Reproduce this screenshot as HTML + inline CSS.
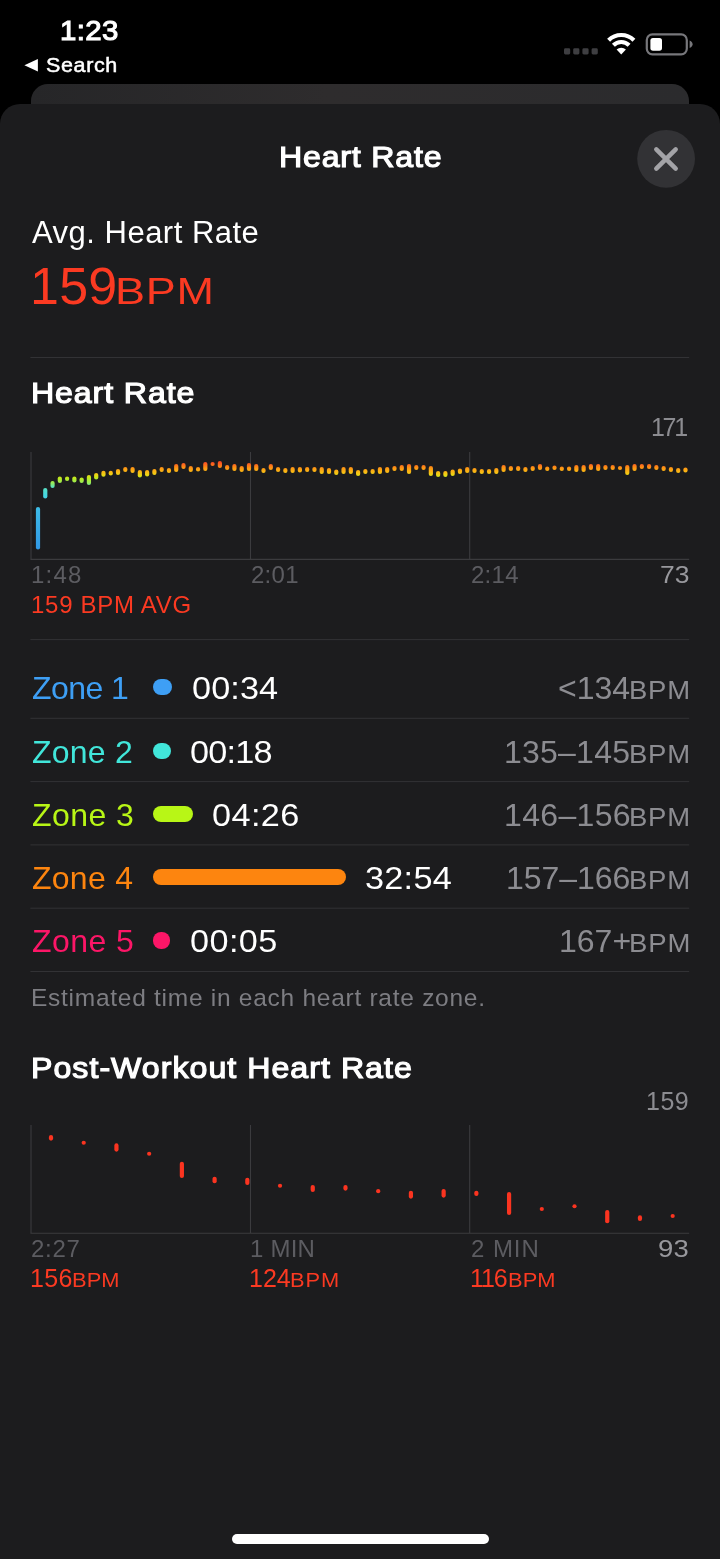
<!DOCTYPE html>
<html lang="en"><head><meta charset="utf-8">
<meta name="viewport" content="width=720">
<title>Heart Rate</title>
<style>
html,body{margin:0;padding:0;background:#000;}
body{width:720px;height:1559px;position:relative;overflow:hidden;font-family:"Liberation Sans",Arial,sans-serif;}
.abs{position:absolute;}
.t{position:absolute;white-space:nowrap;line-height:1;margin:0;padding:0;transform-origin:0 100%;will-change:transform;}
.back{position:absolute;left:31px;top:84px;width:658px;height:60px;border-radius:17px 17px 0 0;background:linear-gradient(90deg,#262628 0%,#2e2c2d 45%,#2b2b2d 100%);}
.sheet{position:absolute;left:0;top:104px;width:720px;height:1455px;border-radius:20px 20px 0 0;background:#1c1c1e;}
.sep{position:absolute;left:30px;width:659px;height:1px;background:#323235;}
.ax{position:absolute;background:#3b3b3e;}
.bar{position:absolute;}
</style></head><body>
<div class="back"></div>
<div class="sheet"></div>
<svg class="abs" style="left:20px;top:55px" width="22" height="22" viewBox="0 0 22 22"><path d="M4.4 10.3 L17.9 4.1 L17.9 16.6 Z" fill="#fff"/></svg>
<svg class="abs" style="left:560px;top:28px" width="140" height="32" viewBox="0 0 140 32">
<g fill="#3e3e41"><rect x="4" y="20.3" width="6.2" height="6.2" rx="1.4"/><rect x="13.2" y="20.3" width="6.2" height="6.2" rx="1.4"/><rect x="22.4" y="20.3" width="6.2" height="6.2" rx="1.4"/><rect x="31.6" y="20.3" width="6.2" height="6.2" rx="1.4"/></g>
<g fill="none" stroke="#fff" stroke-linecap="butt">
<path d="M48.6 12.2 A 18 18 0 0 1 73.9 12.2" stroke-width="4.2"/>
<path d="M53.4 17.2 A 11.2 11.2 0 0 1 69.1 17.2" stroke-width="4.2"/>
</g>
<path d="M61.25 26.6 L56.6 21.6 A 6.6 6.6 0 0 1 65.9 21.6 Z" fill="#fff"/>
<rect x="86.8" y="6.3" width="40" height="20" rx="5.6" fill="none" stroke="#77777b" stroke-width="2.2"/>
<rect x="90.4" y="9.9" width="11.6" height="12.8" rx="2.6" fill="#fff"/>
<path d="M129.6 12.6 C131.8 13.3 132.6 15 132.6 16.3 C132.6 17.6 131.8 19.3 129.6 20 Z" fill="#77777b"/>
</svg>
<svg class="abs" style="left:636px;top:128px" width="60" height="60" viewBox="0 0 60 60"><circle cx="30.1" cy="30.8" r="28.9" fill="#323235"/><path d="M20.3 21.3 L39.7 40.7 M39.7 21.3 L20.3 40.7" stroke="#a3a3a7" stroke-width="4.5" stroke-linecap="round"/></svg>
<svg class="abs" style="left:0;top:0" width="720" height="1559" viewBox="0 0 720 1559"><g stroke="#323235" stroke-width="1" fill="none"><path d="M30.4 357.5H689.2"/><path d="M30.4 639.6H689.2"/><path d="M30.4 718.3H689.2"/><path d="M30.4 781.6H689.2"/><path d="M30.4 844.9H689.2"/><path d="M30.4 908.2H689.2"/><path d="M30.4 971.5H689.2"/></g><g stroke="#3b3b3e" stroke-width="1.1" fill="none"><path d="M31 452V559.4M250.5 452V559.4M469.7 452V559.4M30.4 559.4H689.2"/><path d="M31 1125V1233.3M250.5 1125V1233.3M469.7 1125V1233.3M30.4 1233.3H689.2"/></g></svg>
<svg class="abs" style="left:0;top:440px" width="720" height="125" viewBox="0 440 720 125">
<defs><linearGradient id="hrg" gradientUnits="userSpaceOnUse" x1="0" y1="459" x2="0" y2="552"><stop offset="0.0000" stop-color="#fa3728"/><stop offset="0.0323" stop-color="#fb4b23"/><stop offset="0.0645" stop-color="#fc6e1c"/><stop offset="0.0968" stop-color="#fd9614"/><stop offset="0.1398" stop-color="#fab914"/><stop offset="0.1720" stop-color="#ebd714"/><stop offset="0.2043" stop-color="#beeb1e"/><stop offset="0.2581" stop-color="#96eb5a"/><stop offset="0.3011" stop-color="#5ae1be"/><stop offset="0.3871" stop-color="#46d7e1"/><stop offset="0.5484" stop-color="#3cb9e8"/><stop offset="1.0000" stop-color="#3096e6"/></linearGradient></defs>
<g fill="url(#hrg)"><rect x="35.90" y="507.00" width="4.2" height="42.50" rx="2.1"/><rect x="43.17" y="488.00" width="4.2" height="10.50" rx="2.1"/><rect x="50.45" y="481.00" width="4.2" height="7.00" rx="2.1"/><rect x="57.73" y="476.50" width="4.2" height="6.50" rx="2.1"/><rect x="65.00" y="476.50" width="4.2" height="4.50" rx="2.1"/><rect x="72.28" y="476.50" width="4.2" height="6.00" rx="2.1"/><rect x="79.55" y="477.50" width="4.2" height="5.50" rx="2.1"/><rect x="86.83" y="475.00" width="4.2" height="10.00" rx="2.1"/><rect x="94.10" y="473.00" width="4.2" height="6.50" rx="2.1"/><rect x="101.38" y="470.75" width="4.2" height="6.00" rx="2.1"/><rect x="108.65" y="470.75" width="4.2" height="4.75" rx="2.1"/><rect x="115.93" y="469.00" width="4.2" height="6.00" rx="2.1"/><rect x="123.20" y="467.00" width="4.2" height="5.00" rx="2.1"/><rect x="130.47" y="467.00" width="4.2" height="6.00" rx="2.1"/><rect x="137.75" y="470.00" width="4.2" height="7.50" rx="2.1"/><rect x="145.03" y="470.00" width="4.2" height="6.50" rx="2.1"/><rect x="152.30" y="469.00" width="4.2" height="6.00" rx="2.1"/><rect x="159.58" y="467.00" width="4.2" height="5.00" rx="2.1"/><rect x="166.85" y="468.00" width="4.2" height="5.00" rx="2.1"/><rect x="174.12" y="464.00" width="4.2" height="8.00" rx="2.1"/><rect x="181.40" y="463.00" width="4.2" height="6.00" rx="2.1"/><rect x="188.68" y="466.00" width="4.2" height="6.00" rx="2.1"/><rect x="195.95" y="467.00" width="4.2" height="4.50" rx="2.1"/><rect x="203.23" y="462.00" width="4.2" height="9.00" rx="2.1"/><rect x="210.50" y="462.00" width="4.2" height="4.00" rx="2.1"/><rect x="217.78" y="461.00" width="4.2" height="7.00" rx="2.1"/><rect x="225.05" y="465.00" width="4.2" height="5.00" rx="2.1"/><rect x="232.33" y="464.00" width="4.2" height="7.00" rx="2.1"/><rect x="239.60" y="466.00" width="4.2" height="6.00" rx="2.1"/><rect x="246.88" y="463.00" width="4.2" height="8.00" rx="2.1"/><rect x="254.15" y="464.00" width="4.2" height="7.00" rx="2.1"/><rect x="261.42" y="468.00" width="4.2" height="5.00" rx="2.1"/><rect x="268.70" y="464.00" width="4.2" height="6.00" rx="2.1"/><rect x="275.98" y="467.00" width="4.2" height="5.00" rx="2.1"/><rect x="283.25" y="468.00" width="4.2" height="5.00" rx="2.1"/><rect x="290.52" y="467.00" width="4.2" height="6.00" rx="2.1"/><rect x="297.80" y="467.00" width="4.2" height="5.50" rx="2.1"/><rect x="305.07" y="467.00" width="4.2" height="5.00" rx="2.1"/><rect x="312.35" y="467.00" width="4.2" height="5.00" rx="2.1"/><rect x="319.62" y="467.00" width="4.2" height="7.00" rx="2.1"/><rect x="326.90" y="468.00" width="4.2" height="6.00" rx="2.1"/><rect x="334.18" y="469.50" width="4.2" height="5.50" rx="2.1"/><rect x="341.45" y="467.00" width="4.2" height="7.00" rx="2.1"/><rect x="348.72" y="467.00" width="4.2" height="7.00" rx="2.1"/><rect x="356.00" y="470.00" width="4.2" height="6.00" rx="2.1"/><rect x="363.27" y="469.00" width="4.2" height="5.00" rx="2.1"/><rect x="370.55" y="469.00" width="4.2" height="5.00" rx="2.1"/><rect x="377.82" y="467.00" width="4.2" height="7.00" rx="2.1"/><rect x="385.10" y="467.00" width="4.2" height="6.00" rx="2.1"/><rect x="392.38" y="466.00" width="4.2" height="5.00" rx="2.1"/><rect x="399.65" y="465.00" width="4.2" height="6.00" rx="2.1"/><rect x="406.93" y="464.00" width="4.2" height="10.00" rx="2.1"/><rect x="414.20" y="465.00" width="4.2" height="5.00" rx="2.1"/><rect x="421.48" y="465.00" width="4.2" height="5.00" rx="2.1"/><rect x="428.75" y="466.00" width="4.2" height="10.00" rx="2.1"/><rect x="436.02" y="471.00" width="4.2" height="6.00" rx="2.1"/><rect x="443.30" y="471.00" width="4.2" height="6.00" rx="2.1"/><rect x="450.57" y="469.50" width="4.2" height="6.50" rx="2.1"/><rect x="457.85" y="468.50" width="4.2" height="5.50" rx="2.1"/><rect x="465.12" y="467.00" width="4.2" height="6.00" rx="2.1"/><rect x="472.40" y="468.00" width="4.2" height="5.00" rx="2.1"/><rect x="479.68" y="469.00" width="4.2" height="5.00" rx="2.1"/><rect x="486.95" y="469.00" width="4.2" height="5.00" rx="2.1"/><rect x="494.23" y="468.00" width="4.2" height="6.00" rx="2.1"/><rect x="501.50" y="465.00" width="4.2" height="7.00" rx="2.1"/><rect x="508.77" y="466.00" width="4.2" height="5.00" rx="2.1"/><rect x="516.05" y="466.00" width="4.2" height="5.00" rx="2.1"/><rect x="523.32" y="467.00" width="4.2" height="5.00" rx="2.1"/><rect x="530.60" y="466.00" width="4.2" height="5.00" rx="2.1"/><rect x="537.88" y="464.00" width="4.2" height="6.00" rx="2.1"/><rect x="545.15" y="466.50" width="4.2" height="4.50" rx="2.1"/><rect x="552.42" y="465.50" width="4.2" height="4.50" rx="2.1"/><rect x="559.70" y="466.50" width="4.2" height="4.50" rx="2.1"/><rect x="566.98" y="466.50" width="4.2" height="4.50" rx="2.1"/><rect x="574.25" y="465.00" width="4.2" height="7.00" rx="2.1"/><rect x="581.52" y="465.00" width="4.2" height="7.00" rx="2.1"/><rect x="588.80" y="464.00" width="4.2" height="6.00" rx="2.1"/><rect x="596.08" y="464.00" width="4.2" height="7.00" rx="2.1"/><rect x="603.35" y="465.00" width="4.2" height="5.00" rx="2.1"/><rect x="610.62" y="465.00" width="4.2" height="5.00" rx="2.1"/><rect x="617.90" y="466.00" width="4.2" height="4.00" rx="2.1"/><rect x="625.17" y="465.00" width="4.2" height="10.00" rx="2.1"/><rect x="632.45" y="464.00" width="4.2" height="7.00" rx="2.1"/><rect x="639.73" y="464.00" width="4.2" height="5.00" rx="2.1"/><rect x="647.00" y="464.00" width="4.2" height="5.00" rx="2.1"/><rect x="654.27" y="465.00" width="4.2" height="5.00" rx="2.1"/><rect x="661.55" y="466.00" width="4.2" height="5.00" rx="2.1"/><rect x="668.83" y="467.00" width="4.2" height="5.00" rx="2.1"/><rect x="676.10" y="468.00" width="4.2" height="5.00" rx="2.1"/><rect x="683.38" y="467.50" width="4.2" height="5.00" rx="2.1"/></g></svg>
<svg class="abs" style="left:0;top:1120px" width="720" height="115" viewBox="0 1120 720 115"><g fill="#fb3420"><rect x="48.90" y="1135.00" width="4.2" height="5.70" rx="2.1"/><rect x="81.62" y="1140.70" width="4.2" height="4.00" rx="2.1"/><rect x="114.34" y="1143.30" width="4.2" height="8.40" rx="2.1"/><rect x="147.06" y="1151.70" width="4.2" height="4.00" rx="2.1"/><rect x="179.78" y="1161.70" width="4.2" height="16.30" rx="2.1"/><rect x="212.50" y="1176.70" width="4.2" height="6.60" rx="2.1"/><rect x="245.22" y="1177.70" width="4.2" height="7.30" rx="2.1"/><rect x="277.94" y="1183.70" width="4.2" height="4.00" rx="2.1"/><rect x="310.66" y="1185.00" width="4.2" height="7.00" rx="2.1"/><rect x="343.38" y="1185.00" width="4.2" height="5.70" rx="2.1"/><rect x="376.10" y="1189.00" width="4.2" height="4.30" rx="2.1"/><rect x="408.82" y="1190.70" width="4.2" height="8.00" rx="2.1"/><rect x="441.54" y="1189.00" width="4.2" height="8.70" rx="2.1"/><rect x="474.26" y="1190.70" width="4.2" height="5.30" rx="2.1"/><rect x="506.98" y="1192.00" width="4.2" height="23.00" rx="2.1"/><rect x="539.70" y="1207.00" width="4.2" height="4.00" rx="2.1"/><rect x="572.42" y="1204.30" width="4.2" height="4.00" rx="2.1"/><rect x="605.14" y="1210.00" width="4.2" height="13.30" rx="2.1"/><rect x="637.86" y="1215.30" width="4.2" height="5.70" rx="2.1"/><rect x="670.58" y="1214.00" width="4.2" height="4.00" rx="2.1"/></g></svg>
<div class="bar" style="left:153.3px;top:679.20px;width:19.2px;height:16.2px;border-radius:8.1px;background:#3e9ff5"></div>
<div class="bar" style="left:153.3px;top:742.50px;width:17.8px;height:16.2px;border-radius:8.1px;background:#41e6da"></div>
<div class="bar" style="left:153.3px;top:805.80px;width:39.8px;height:16.2px;border-radius:8.1px;background:#b8f616"></div>
<div class="bar" style="left:153.3px;top:869.10px;width:192.5px;height:16.2px;border-radius:8.1px;background:#fd850f"></div>
<div class="bar" style="left:153.3px;top:932.40px;width:16.7px;height:16.2px;border-radius:8.1px;background:#fc1667"></div>
<div class="t" id="time" style="left:60.11px;top:16.80px;font-size:28px;font-weight:400;color:#fff;letter-spacing:0.34px;transform:scaleX(1.05);-webkit-text-stroke:1.1px #fff;">1:23</div>
<div class="t" id="search" style="left:46.00px;top:55.35px;font-size:20.5px;font-weight:400;color:#fff;letter-spacing:0.58px;transform:scaleX(1.05);-webkit-text-stroke:0.5px #fff;">Search</div>
<div class="t" id="title" style="left:278.88px;top:142.21px;font-size:30px;font-weight:400;color:#fff;letter-spacing:0.77px;transform:scaleX(1.07);-webkit-text-stroke:1.2px #fff;">Heart Rate</div>
<div class="t" id="avg" style="left:32.07px;top:216.76px;font-size:31px;font-weight:400;color:#fff;letter-spacing:0.49px;">Avg. Heart Rate</div>
<div class="t" id="big" style="left:29.62px;top:260.28px;font-size:52px;font-weight:400;color:#fb3a22;letter-spacing:0.22px;">159</div>
<div class="t" id="bigu" style="left:114.70px;top:272.56px;font-size:37.5px;font-weight:400;color:#fb3a22;letter-spacing:0.57px;transform:scaleX(1.2);">BPM</div>
<div class="t" id="h1" style="left:30.50px;top:378.31px;font-size:30px;font-weight:400;color:#fff;letter-spacing:0.85px;transform:scaleX(1.07);-webkit-text-stroke:1.2px #fff;">Heart Rate</div>
<div class="t" id="max1" style="left:651.00px;top:415.04px;font-size:25px;font-weight:400;color:#8c8c91;letter-spacing:-2.30px;">171</div>
<div class="t" id="x1a" style="left:30.50px;top:563.28px;font-size:24px;font-weight:400;color:#5c5c61;letter-spacing:1.24px;">1:48</div>
<div class="t" id="x1b" style="left:251.00px;top:563.28px;font-size:24px;font-weight:400;color:#5c5c61;letter-spacing:0.27px;">2:01</div>
<div class="t" id="x1c" style="left:470.62px;top:563.28px;font-size:24px;font-weight:400;color:#5c5c61;letter-spacing:0.27px;">2:14</div>
<div class="t" id="min1" style="left:659.62px;top:562.86px;font-size:24.5px;font-weight:400;color:#98989d;letter-spacing:-0.07px;transform:scaleX(1.08);">73</div>
<div class="t" id="avgl" style="left:30.50px;top:592.98px;font-size:24px;font-weight:400;color:#fb3a22;letter-spacing:0.72px;">159 BPM AVG</div>
<div class="t" id="z0" style="left:32.04px;top:672.21px;font-size:32px;font-weight:400;color:#3e9ff5;letter-spacing:-0.58px;">Zone 1</div>
<div class="t" id="zt0" style="left:191.70px;top:672.21px;font-size:32px;font-weight:400;color:#fff;letter-spacing:0.10px;transform:scaleX(1.07);">00:34</div>
<div class="t" id="zr0" style="left:557.50px;top:672.21px;font-size:32px;font-weight:400;color:#8c8c91;">&lt;134</div>
<div class="t" id="zu0" style="left:629.38px;top:678.14px;font-size:25px;font-weight:400;color:#8c8c91;letter-spacing:0.69px;transform:scaleX(1.1);">BPM</div>
<div class="t" id="z1" style="left:32.04px;top:735.51px;font-size:32px;font-weight:400;color:#41e6da;letter-spacing:0.22px;">Zone 2</div>
<div class="t" id="zt1" style="left:189.70px;top:735.51px;font-size:32px;font-weight:400;color:#fff;letter-spacing:-0.76px;transform:scaleX(1.07);">00:18</div>
<div class="t" id="zr1" style="left:504.00px;top:735.51px;font-size:32px;font-weight:400;color:#8c8c91;letter-spacing:0.23px;">135–145</div>
<div class="t" id="zu1" style="left:629.38px;top:741.94px;font-size:25px;font-weight:400;color:#8c8c91;letter-spacing:0.69px;transform:scaleX(1.1);">BPM</div>
<div class="t" id="z2" style="left:31.88px;top:798.81px;font-size:32px;font-weight:400;color:#b8f616;letter-spacing:0.42px;">Zone 3</div>
<div class="t" id="zt2" style="left:212.38px;top:798.81px;font-size:32px;font-weight:400;color:#fff;letter-spacing:0.37px;transform:scaleX(1.07);">04:26</div>
<div class="t" id="zr2" style="left:504.00px;top:798.81px;font-size:32px;font-weight:400;color:#8c8c91;letter-spacing:0.34px;">146–156</div>
<div class="t" id="zu2" style="left:629.38px;top:804.74px;font-size:25px;font-weight:400;color:#8c8c91;letter-spacing:0.69px;transform:scaleX(1.1);">BPM</div>
<div class="t" id="z3" style="left:31.88px;top:862.11px;font-size:32px;font-weight:400;color:#fd850f;letter-spacing:0.26px;">Zone 4</div>
<div class="t" id="zt3" style="left:365.00px;top:862.11px;font-size:32px;font-weight:400;color:#fff;letter-spacing:0.25px;transform:scaleX(1.07);">32:54</div>
<div class="t" id="zr3" style="left:506.00px;top:862.11px;font-size:32px;font-weight:400;color:#8c8c91;letter-spacing:-0.03px;">157–166</div>
<div class="t" id="zu3" style="left:629.38px;top:868.04px;font-size:25px;font-weight:400;color:#8c8c91;letter-spacing:0.69px;transform:scaleX(1.1);">BPM</div>
<div class="t" id="z4" style="left:31.88px;top:925.41px;font-size:32px;font-weight:400;color:#fc1667;letter-spacing:0.42px;">Zone 5</div>
<div class="t" id="zt4" style="left:189.64px;top:925.41px;font-size:32px;font-weight:400;color:#fff;letter-spacing:0.39px;transform:scaleX(1.07);">00:05</div>
<div class="t" id="zr4" style="left:559.07px;top:925.41px;font-size:32px;font-weight:400;color:#8c8c91;">167+</div>
<div class="t" id="zu4" style="left:629.28px;top:931.34px;font-size:25px;font-weight:400;color:#8c8c91;letter-spacing:0.79px;transform:scaleX(1.1);">BPM</div>
<div class="t" id="est" style="left:31.04px;top:985.86px;font-size:24.5px;font-weight:400;color:#7d7d82;letter-spacing:0.73px;">Estimated time in each heart rate zone.</div>
<div class="t" id="h2" style="left:30.88px;top:1053.11px;font-size:30px;font-weight:400;color:#fff;letter-spacing:0.97px;transform:scaleX(1.07);-webkit-text-stroke:1.2px #fff;">Post-Workout Heart Rate</div>
<div class="t" id="max2" style="left:645.50px;top:1088.84px;font-size:25px;font-weight:400;color:#8c8c91;letter-spacing:0.50px;">159</div>
<div class="t" id="x2a" style="left:31.24px;top:1237.08px;font-size:24px;font-weight:400;color:#5c5c61;letter-spacing:0.71px;">2:27</div>
<div class="t" id="x2b" style="left:250.00px;top:1237.08px;font-size:24px;font-weight:400;color:#5c5c61;letter-spacing:0.22px;">1 MIN</div>
<div class="t" id="x2c" style="left:470.62px;top:1237.08px;font-size:24px;font-weight:400;color:#5c5c61;letter-spacing:0.95px;">2 MIN</div>
<div class="t" id="min2" style="left:658.38px;top:1236.66px;font-size:24.5px;font-weight:400;color:#98989d;letter-spacing:0.20px;transform:scaleX(1.12);">93</div>
<div class="t" id="p1" style="left:30.24px;top:1265.84px;font-size:25px;font-weight:400;color:#fb3a22;letter-spacing:0.38px;">156</div>
<div class="t" id="p1u" style="left:71.88px;top:1271.49px;font-size:19.5px;font-weight:400;color:#fb3a22;letter-spacing:0.06px;transform:scaleX(1.12);">BPM</div>
<div class="t" id="p2" style="left:248.93px;top:1265.84px;font-size:25px;font-weight:400;color:#fb3a22;letter-spacing:-0.02px;">124</div>
<div class="t" id="p2u" style="left:290.40px;top:1271.49px;font-size:19.5px;font-weight:400;color:#fb3a22;letter-spacing:0.79px;transform:scaleX(1.12);">BPM</div>
<div class="t" id="p3" style="left:469.62px;top:1265.84px;font-size:25px;font-weight:400;color:#fb3a22;letter-spacing:-1.10px;">116</div>
<div class="t" id="p3u" style="left:508.00px;top:1271.49px;font-size:19.5px;font-weight:400;color:#fb3a22;letter-spacing:0.06px;transform:scaleX(1.12);">BPM</div>
<div class="abs" style="left:232px;top:1534px;width:257px;height:10px;border-radius:5px;background:#fff"></div>
</body></html>
